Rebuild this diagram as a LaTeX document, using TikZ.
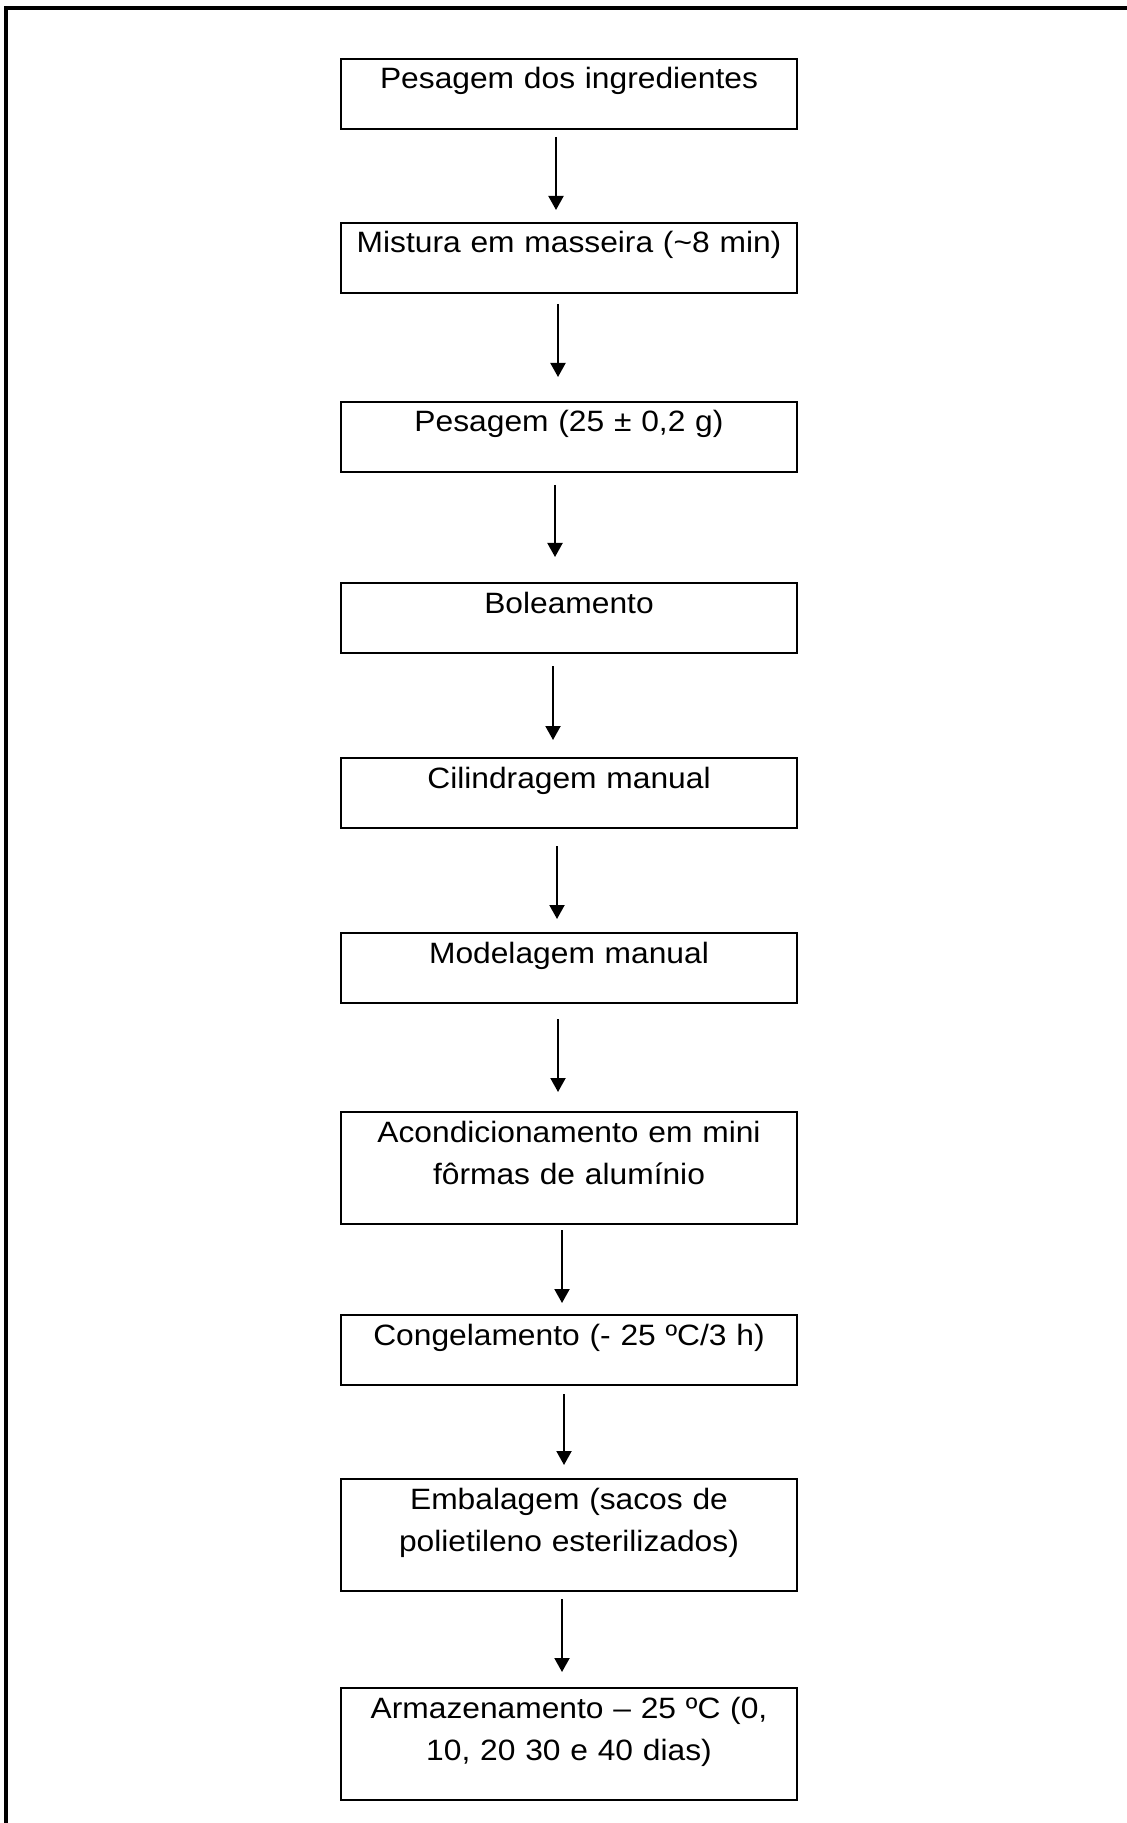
\documentclass[tikz,border=0pt]{standalone}
\usepackage{fontspec}
\setmainfont{Liberation Sans}[FakeStretch=1.08]
\usepackage{tikz}
\usetikzlibrary{positioning,arrows.meta}
\tikzset{
    block/.style={rectangle, draw=black, line width=1pt, outer sep=0pt, inner sep=0pt, text width=228pt, align=center, text height=15pt, text depth=20pt, font=\fontsize{14.7}{21}\selectfont},
    tall_block/.style={block, text depth=41pt},
    line/.style={-{Triangle[width=7.5pt,length=7pt]}, line width=1pt},
}

\begin{document}
\begin{tikzpicture}
        [x=0.5pt, y=-0.5pt]
        \useasboundingbox (0,0) rectangle (1127,1823);

        % Frame
        \draw[line width=2pt] (6,1823) -- (6,8) -- (1127,8);

        % Process steps
        \node[block, anchor=north] (weigh) at (569,59) {Pesagem dos ingredientes};
        \node[block, below=47pt of weigh] (mix) {Mistura em masseira (\textasciitilde 8 min)};
        \node[block, below=54.5pt of mix] (portion) {Pesagem (25 ± 0,2 g)};
        \node[block, below=55.5pt of portion] (ball) {Boleamento};
        \node[block, below=52.5pt of ball] (roll) {Cilindragem manual};
        \node[block, below=52.5pt of roll] (mould) {Modelagem manual};
        \node[tall_block, below=54.5pt of mould] (pan) {Acondicionamento em mini\\fôrmas de alumínio};
        \node[block, below=45.5pt of pan] (freeze) {Congelamento (- 25 ºC/3 h)};
        \node[tall_block, below=47pt of freeze] (pack) {Embalagem (sacos de\\polietileno esterilizados)};
        \node[tall_block, below=48.5pt of pack] (store) {Armazenamento – 25 ºC (0,\\10, 20 30 e 40 dias)};

        % Arrows going down
        \draw[line, shorten <=4pt, shorten >=6.5pt] ([xshift=-6.5pt]weigh.south) -- ([xshift=-6.5pt]mix.north);
        \draw[line, shorten <=5.5pt, shorten >=12.5pt] ([xshift=-5.5pt]mix.south) -- ([xshift=-5.5pt]portion.north);
        \draw[line, shorten <=6.5pt, shorten >=13pt] ([xshift=-7pt]portion.south) -- ([xshift=-7pt]ball.north);
        \draw[line, shorten <=6.5pt, shorten >=9pt] ([xshift=-8pt]ball.south) -- ([xshift=-8pt]roll.north);
        \draw[line, shorten <=9pt, shorten >=7pt] ([xshift=-6pt]roll.south) -- ([xshift=-6pt]mould.north);
        \draw[line, shorten <=8pt, shorten >=10pt] ([xshift=-5.5pt]mould.south) -- ([xshift=-5.5pt]pan.north);
        \draw[line, shorten <=3pt, shorten >=6pt] ([xshift=-3.5pt]pan.south) -- ([xshift=-3.5pt]freeze.north);
        \draw[line, shorten <=4.5pt, shorten >=7pt] ([xshift=-2.5pt]freeze.south) -- ([xshift=-2.5pt]pack.north);
        \draw[line, shorten <=4pt, shorten >=8pt] ([xshift=-3.5pt]pack.south) -- ([xshift=-3.5pt]store.north);
    \end{tikzpicture}
\end{document}
